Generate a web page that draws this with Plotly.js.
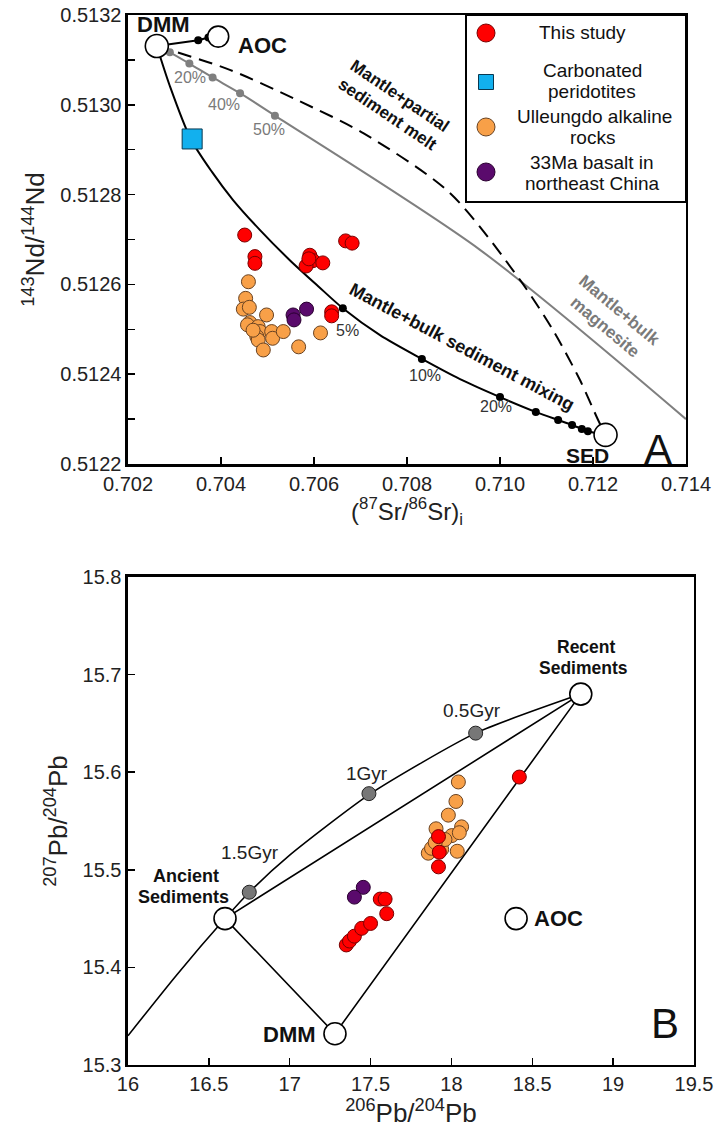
<!DOCTYPE html>
<html><head><meta charset="utf-8">
<script src="https://cdn.plot.ly/plotly-3.0.1.min.js"></script>
<style>html,body{margin:0;padding:0;background:#fff}</style>
</head><body>
<div id="chart" style="width:719px;height:1132px"></div>
<script>
// ---------- Panel A: Sr-Nd ----------
const studySr = [0.70451,0.70473,0.70473,0.70591,0.70598,0.70583,0.70619,0.70589,0.70668,0.70682,0.70638,0.70638];
const studyNd = [0.512710,0.512662,0.512647,0.512665,0.512653,0.512641,0.512648,0.512657,0.512697,0.512692,0.512539,0.512530];
const carbSr = [0.70338];
const carbNd = [0.512924];
const ullSr = [0.70459,0.70453,0.70448,0.70461,0.70498,0.70462,0.70457,0.70480,0.70484,0.70477,0.70480,0.70509,0.70511,0.70534,0.70491,0.70567,0.70614,0.70469];
const ullNd = [0.512606,0.512569,0.512545,0.512549,0.512532,0.512515,0.512510,0.512506,0.512495,0.512484,0.512476,0.512495,0.512480,0.512495,0.512454,0.512461,0.512492,0.512498];
const necSr = [0.70555,0.70557,0.70584];
const necNd = [0.512532,0.512521,0.512545];
const endSrA = [0.70262,0.70394,0.71227];
const endNdA = [0.513131,0.513152,0.512265];
const endNamesA = ['DMM','AOC','SED'];
// model curves
const mixSr = [0.70262,0.70290,0.70335,0.70381,0.70426,0.70484,0.70548,0.70609,0.70662,0.70742,0.70832,0.70914,0.71000,0.71077,0.71125,0.71155,0.71176,0.71189,0.71227];
const mixNd = [0.513131,0.513042,0.512924,0.512850,0.512788,0.512721,0.512654,0.512596,0.512547,0.512487,0.512434,0.512389,0.512349,0.512316,0.512298,0.512287,0.512278,0.512273,0.512265];
const mixDotSr = [0.70662,0.70832,0.71000,0.71077,0.71125,0.71155,0.71176,0.71189];
const mixDotNd = [0.512547,0.512434,0.512349,0.512316,0.512298,0.512287,0.512278,0.512273];
const meltSr = [0.70262,0.70419,0.70563,0.70706,0.70892,0.71043,0.71114,0.71172,0.71211,0.71227];
const meltNd = [0.513131,0.513078,0.513011,0.512937,0.512804,0.512610,0.512498,0.512387,0.512298,0.512265];
const magSr = [0.70262,0.70290,0.70332,0.70382,0.70441,0.70516,0.70957,0.71400];
const magNd = [0.513131,0.513117,0.513092,0.513061,0.513026,0.512976,0.512677,0.512300];
const magDotSr = [0.70290,0.70332,0.70382,0.70441,0.70516];
const magDotNd = [0.513117,0.513092,0.513061,0.513026,0.512976];
const aocSr = [0.70262,0.70351,0.70373,0.70394];
const aocNd = [0.513131,0.513144,0.513150,0.513152];
const aocDotSr = [0.70351,0.70373];
const aocDotNd = [0.513144,0.513150];

// ---------- Panel B: Pb-Pb ----------
const studyPb6 = [17.35,17.37,17.40,17.445,17.50,17.56,17.59,17.60,17.92,17.925,17.92,18.42];
const studyPb7 = [15.423,15.427,15.432,15.440,15.445,15.470,15.470,15.455,15.534,15.518,15.503,15.595];
const ullPb6 = [18.043,18.028,17.981,17.905,18.063,18.002,18.049,17.857,17.940,18.036,17.877,17.960,17.900];
const ullPb7 = [15.590,15.570,15.556,15.542,15.544,15.535,15.538,15.517,15.521,15.519,15.522,15.531,15.528];
const necPb6 = [17.455,17.40];
const necPb7 = [15.482,15.472];
const growthPb6 = [16.0,16.3,16.6,16.75,17.0,17.5,18.15,18.8];
const growthPb7 = [15.330,15.392,15.450,15.477,15.515,15.578,15.640,15.680];
const gyrPb6 = [16.75,17.49,18.15];
const gyrPb7 = [15.477,15.578,15.640];
const gyrLabels = ['1.5Gyr','1Gyr','0.5Gyr'];
const triPb6 = [16.6,18.8,17.28,16.6];
const triPb7 = [15.450,15.680,15.332,15.450];
const endPb6 = [17.28,16.6,18.8,18.4];
const endPb7 = [15.332,15.450,15.680,15.450];

const FONT = 'Liberation Sans, Arial, Helvetica, sans-serif';
const RED = '#ff0000', REDL = '#7a0000';
const ORA = '#f8a048', ORAL = '#6a4322';
const PUR = '#5a0a6c', PURL = '#2a0030';
const BLU = '#12b0ee', BLUL = '#0a3850';

function mk(color, line, size, symbol){return {color:color, size:size, opacity:1, symbol:symbol||'circle', line:{color:line, width:1}};}

const traces = [
  // A lines
  {x:magSr, y:magNd, xaxis:'x', yaxis:'y', mode:'lines', line:{color:'#7f7f7f', width:2, shape:'spline', smoothing:0.8}},
  {x:meltSr, y:meltNd, xaxis:'x', yaxis:'y', mode:'lines', line:{color:'#000', width:2, dash:'14px,8px', shape:'spline', smoothing:0.8}},
  {x:mixSr, y:mixNd, xaxis:'x', yaxis:'y', mode:'lines', line:{color:'#000', width:2, shape:'spline', smoothing:0.8}},
  {x:aocSr, y:aocNd, xaxis:'x', yaxis:'y', mode:'lines', line:{color:'#000', width:2}},
  {x:magDotSr, y:magDotNd, xaxis:'x', yaxis:'y', mode:'markers', marker:{color:'#7f7f7f', size:8, opacity:1}},
  {x:mixDotSr, y:mixDotNd, xaxis:'x', yaxis:'y', mode:'markers', marker:{color:'#000', size:8, opacity:1}},
  {x:aocDotSr, y:aocDotNd, xaxis:'x', yaxis:'y', mode:'markers', marker:{color:'#000', size:8, opacity:1}},
  // A data
  {x:ullSr, y:ullNd, xaxis:'x', yaxis:'y', mode:'markers', marker:mk(ORA, ORAL, 14)},
  {x:necSr, y:necNd, xaxis:'x', yaxis:'y', mode:'markers', marker:mk(PUR, PURL, 14)},
  {x:studySr, y:studyNd, xaxis:'x', yaxis:'y', mode:'markers', marker:mk(RED, REDL, 14)},
  {x:carbSr, y:carbNd, xaxis:'x', yaxis:'y', mode:'markers', marker:mk(BLU, BLUL, 20, 'square')},
  {x:endSrA, y:endNdA, xaxis:'x', yaxis:'y', mode:'markers', marker:{color:'#fff', opacity:1, size:[23,21,23], line:{color:'#000', width:1.6}}},
  // B lines
  {x:growthPb6, y:growthPb7, xaxis:'x2', yaxis:'y2', mode:'lines', line:{color:'#000', width:1.6, shape:'spline', smoothing:0.6}},
  {x:triPb6, y:triPb7, xaxis:'x2', yaxis:'y2', mode:'lines', line:{color:'#000', width:1.6}},
  {x:gyrPb6, y:gyrPb7, xaxis:'x2', yaxis:'y2', mode:'markers', marker:mk('#777', '#222', 14)},
  // B data
  {x:ullPb6, y:ullPb7, xaxis:'x2', yaxis:'y2', mode:'markers', marker:mk(ORA, ORAL, 14)},
  {x:studyPb6, y:studyPb7, xaxis:'x2', yaxis:'y2', mode:'markers', marker:mk(RED, REDL, 14)},
  {x:necPb6, y:necPb7, xaxis:'x2', yaxis:'y2', mode:'markers', marker:mk(PUR, PURL, 14)},
  {x:endPb6, y:endPb7, xaxis:'x2', yaxis:'y2', mode:'markers', marker:{color:'#fff', opacity:1, size:22, line:{color:'#000', width:1.6}}}
];

function ann(x,y,text,size,color,opt){return Object.assign({x:x,y:y,xref:'x',yref:'y',xanchor:'center',yanchor:'middle',text:text,showarrow:false,font:{family:FONT,size:size,color:color||'#111'}},opt||{});}
function ann2(x,y,text,size,color,opt){return Object.assign({x:x,y:y,xref:'x2',yref:'y2',xanchor:'center',yanchor:'middle',text:text,showarrow:false,font:{family:FONT,size:size,color:color||'#111'}},opt||{});}
function pann(px,py,text,size){return {xref:'paper',yref:'paper',x:px/719,y:1-py/1132,xanchor:'center',yanchor:'middle',text:text,showarrow:false,font:{family:FONT,size:size,color:'#111'}};}

const annotations = [
  ann(0.70277,0.513178,'<b>DMM</b>',22),
  ann(0.70490,0.513133,'<b>AOC</b>',22),
  ann(0.71188,0.512220,'<b>SED</b>',21),
  ann(0.71340,0.512232,'A',42),
  ann(0.70333,0.513060,'20%',16,'#7a7a7a'),
  ann(0.70407,0.513000,'40%',16,'#7a7a7a'),
  ann(0.70504,0.512946,'50%',16,'#7a7a7a'),
  ann(0.70673,0.512498,'5%',16,'#333'),
  ann(0.70839,0.512398,'10%',16,'#333'),
  ann(0.70991,0.512329,'20%',16,'#333'),
  ann(0.70772,0.512998,'<b>Mantle+partial<br>sediment melt</b>',17,'#111',{textangle:34}),
  ann(0.70918,0.512460,'<b>Mantle+bulk sediment mixing</b>',18,'#111',{textangle:28}),
  ann(0.71241,0.512525,'<b>Mantle+bulk<br>magnesite</b>',17,'#7a7a7a',{textangle:40}),
  // legend texts
  pann(582,33,'This study',19),
  pann(592,70,'Carbonated',19),
  pann(592,91,'peridotites',19),
  pann(594,117,'Ulleungdo alkaline',19),
  pann(592,138,'rocks',19),
  pann(592,162,'33Ma basalt in',19),
  pann(592,183,'northeast China',19),
  // panel B
  ann2(18.836,15.728,'<b>Recent</b>',17.5),
  ann2(18.814,15.707,'<b>Sediments</b>',17.5),
  ann2(16.356,15.494,'<b>Ancient</b>',18),
  ann2(16.342,15.472,'<b>Sediments</b>',18),
  ann2(16.996,15.331,'<b>DMM</b>',22),
  ann2(18.50,15.450,'<b>AOC</b>',22,'#111',{xanchor:'left'}),
  ann2(19.32,15.342,'B',42)
];
const gyrPos = [[16.754,15.518],[17.476,15.599],[18.125,15.663]];
gyrLabels.forEach((t,i)=>annotations.push(ann2(gyrPos[i][0],gyrPos[i][1],t,19,'#222')));

const legMarkPy = [33,82,127,172];
const legCol = [[RED,REDL,'circle',9],[BLU,BLUL,'rect',7.5],[ORA,ORAL,'circle',9],[PUR,PURL,'circle',9]];
const shapes = [
  {type:'rect',xref:'paper',yref:'paper',x0:466/719,x1:686/719,y0:1-202/1132,y1:1-15/1132,line:{color:'#000',width:2},fillcolor:'#fff',layer:'below'}
];
legMarkPy.forEach((py,i)=>{
  const s = legCol[i][3];
  shapes.push({type:legCol[i][2],xref:'paper',yref:'paper',xsizemode:'pixel',ysizemode:'pixel',xanchor:486/719,yanchor:1-py/1132,x0:-s,x1:s,y0:-s,y1:s,fillcolor:legCol[i][0],line:{color:legCol[i][1],width:1}});
});

const axBase = {showgrid:false, zeroline:false, showline:true, linecolor:'#000', linewidth:2.5, mirror:true,
  ticks:'inside', ticklen:7, tickwidth:1.5, tickcolor:'#000', tickfont:{family:FONT,size:20,color:'#222'}};

const layout = {
  width:719, height:1132, margin:{l:0,r:0,t:0,b:0}, showlegend:false,
  paper_bgcolor:'#fff', plot_bgcolor:'rgba(0,0,0,0)', font:{family:FONT},
  xaxis: Object.assign({}, axBase, {domain:[0.1780,0.9541], anchor:'y', range:[0.702,0.714], dtick:0.002, tick0:0.702, tickformat:'.3f',
    title:{text:'(<sup>87</sup>Sr/<sup>86</sup>Sr)<sub>i</sub>', font:{family:FONT,size:24,color:'#222'}, standoff:0}}),
  yaxis: Object.assign({}, axBase, {domain:[0.5901,0.9867], anchor:'x', range:[0.5122,0.5132], dtick:0.0002, tick0:0.5122, tickformat:'.4f',
    minor:{dtick:0.0001, ticks:'inside', ticklen:7, tickwidth:1.5, tickcolor:'#000'},
    title:{text:'<sup>143</sup>Nd/<sup>144</sup>Nd', font:{family:FONT,size:26,color:'#222'}, standoff:8}}),
  xaxis2: Object.assign({}, axBase, {domain:[0.1780,0.9652], anchor:'y2', range:[16,19.5], dtick:0.5, tick0:16,
    title:{text:'<sup>206</sup>Pb/<sup>204</sup>Pb', font:{family:FONT,size:26,color:'#222'}, standoff:2}}),
  yaxis2: Object.assign({}, axBase, {domain:[0.0592,0.4903], anchor:'x2', range:[15.3,15.8], dtick:0.1, tick0:15.3, tickformat:'.1f',
    title:{text:'<sup>207</sup>Pb/<sup>204</sup>Pb', font:{family:FONT,size:26,color:'#222'}, standoff:8}}),
  annotations: annotations, shapes: shapes
};
Plotly.newPlot('chart', traces, layout, {displayModeBar:false, staticPlot:true});
</script>
</body></html>
